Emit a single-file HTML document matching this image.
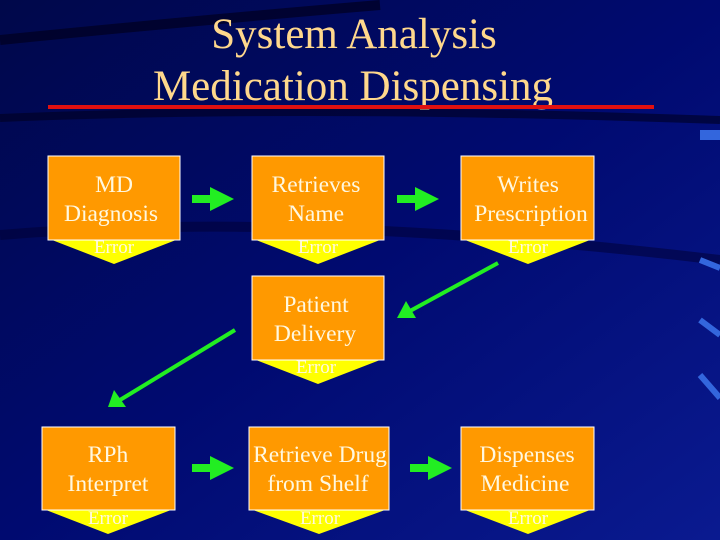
<!DOCTYPE html>
<html><head><style>
body{margin:0;width:720px;height:540px;overflow:hidden;background:#000066}
svg{display:block}
text{font-family:"Liberation Serif",serif}
</style></head><body>
<svg width="720" height="540" viewBox="0 0 720 540">
<defs>
<linearGradient id="bg" x1="0" y1="0" x2="1" y2="1">
<stop offset="0" stop-color="#00084a"/><stop offset="0.5" stop-color="#000a70"/><stop offset="1" stop-color="#0a1a90"/>
</linearGradient>
<marker id="ah" markerWidth="3" markerHeight="3" refX="1.5" refY="1.5" orient="auto" markerUnits="strokeWidth">
<path d="M0,0 L3,1.5 L0,3 z" fill="#22ee22"/></marker>
</defs>
<rect width="720" height="540" fill="url(#bg)"/>
<path d="M0,40 Q200,20 380,5" stroke="#000020" stroke-width="10" fill="none" opacity="0.7"/>
<path d="M0,118 Q300,105 720,120" stroke="#000020" stroke-width="8" fill="none" opacity="0.6"/>
<path d="M0,235 Q300,210 720,260" stroke="#000030" stroke-width="10" fill="none" opacity="0.5"/>
<rect x="700" y="130" width="20" height="10" fill="#3366dd"/>
<path d="M700,260 L720,268" stroke="#3366dd" stroke-width="6"/>
<path d="M700,320 L720,335" stroke="#3366dd" stroke-width="6"/>
<path d="M700,375 L720,398" stroke="#3366dd" stroke-width="6"/>
<text x="354" y="48" font-size="43" fill="#ffd88c" text-anchor="middle">System Analysis</text>
<text x="353" y="100" font-size="43" fill="#ffd88c" text-anchor="middle">Medication Dispensing</text>
<rect x="48" y="105" width="606" height="4" fill="#e01010"/>
<g font-size="23.5" fill="#fff8e0" text-anchor="middle">
<polygon points="52,240 176,240 114,264" fill="#ffff00"/>
<rect x="48" y="156" width="132" height="84" fill="#ff9900" stroke="#fff" stroke-width="1"/>
<text x="114" y="192">MD</text><text x="111" y="221">Diagnosis</text>
<polygon points="256,240 380,240 318,264" fill="#ffff00"/>
<rect x="252" y="156" width="132" height="84" fill="#ff9900" stroke="#fff" stroke-width="1"/>
<text x="316" y="192">Retrieves</text><text x="316" y="221">Name</text>
<polygon points="465,240 590,240 528,264" fill="#ffff00"/>
<rect x="461" y="156" width="133" height="84" fill="#ff9900" stroke="#fff" stroke-width="1"/>
<text x="528" y="192">Writes</text><text x="531" y="221">Prescription</text>
<polygon points="256,360 380,360 318,384" fill="#ffff00"/>
<rect x="252" y="276" width="132" height="84" fill="#ff9900" stroke="#fff" stroke-width="1"/>
<text x="316" y="312">Patient</text><text x="315" y="341">Delivery</text>
<polygon points="46,510 171,510 108,534" fill="#ffff00"/>
<rect x="42" y="427" width="133" height="83" fill="#ff9900" stroke="#fff" stroke-width="1"/>
<text x="108" y="462">RPh</text><text x="108" y="491">Interpret</text>
<polygon points="253,510 385,510 319,534" fill="#ffff00"/>
<rect x="249" y="427" width="140" height="83" fill="#ff9900" stroke="#fff" stroke-width="1"/>
<text x="320" y="462">Retrieve Drug</text><text x="318" y="491">from Shelf</text>
<polygon points="465,510 590,510 528,534" fill="#ffff00"/>
<rect x="461" y="427" width="133" height="83" fill="#ff9900" stroke="#fff" stroke-width="1"/>
<text x="527" y="462">Dispenses</text><text x="525" y="491">Medicine</text>
</g>
<g font-size="19" fill="#fff8e0" text-anchor="middle">
<text x="114" y="253">Error</text><text x="318" y="253">Error</text><text x="528" y="253">Error</text>
<text x="316" y="373">Error</text>
<text x="108" y="524">Error</text><text x="320" y="524">Error</text><text x="528" y="524">Error</text>
</g>
<g stroke="#22ee22" stroke-width="8" fill="none">
<line x1="192" y1="199" x2="222" y2="199" marker-end="url(#ah)"/>
<line x1="397" y1="199" x2="427" y2="199" marker-end="url(#ah)"/>
<line x1="192" y1="468" x2="222" y2="468" marker-end="url(#ah)"/>
<line x1="410" y1="468" x2="440" y2="468" marker-end="url(#ah)"/>
</g>
<g stroke="#22ee22" stroke-width="4" fill="none">
<line x1="498" y1="263" x2="410" y2="311"/>
<line x1="235" y1="330" x2="120" y2="400"/>
</g>
<polygon points="397,318 406,301 416,318" fill="#22ee22"/>
<polygon points="108,407 114,390 126,407" fill="#22ee22"/>
</svg>
</body></html>
